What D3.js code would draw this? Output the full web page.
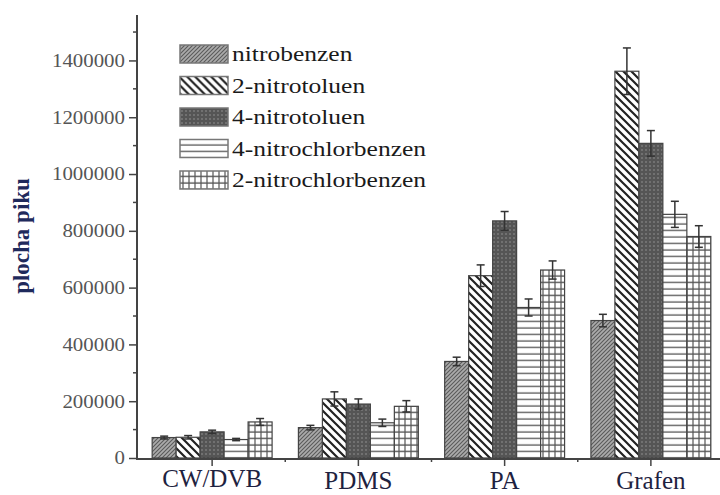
<!DOCTYPE html>
<html>
<head>
<meta charset="utf-8">
<script src="https://cdn.jsdelivr.net/npm/d3@7"></script>
<style>
  html, body { margin: 0; padding: 0; background: #fff; }
  svg { display: block; }
</style>
</head>
<body>
<script>
var categories = ['CW/DVB', 'PDMS', 'PA', 'Grafen'];
var series = ['nitrobenzen', '2-nitrotoluen', '4-nitrotoluen', '4-nitrochlorbenzen', '2-nitrochlorbenzen'];

var nitrobenzen = [72000, 107000, 340000, 484000];
var nitrotoluen2 = [73000, 208000, 642000, 1362000];
var nitrotoluen4 = [92000, 190000, 835000, 1108000];
var nitrochlorbenzen4 = [65000, 124000, 530000, 858000];
var nitrochlorbenzen2 = [127000, 182000, 662000, 780000];

var errNitrobenzen = [5000, 8000, 15000, 22000];
var errNitrotoluen2 = [6000, 25000, 38000, 82000];
var errNitrotoluen4 = [6000, 18000, 33000, 45000];
var errNitrochlorbenzen4 = [4000, 13000, 30000, 46000];
var errNitrochlorbenzen2 = [12000, 20000, 32000, 38000];

var yTicks = [0, 200000, 400000, 600000, 800000, 1000000, 1200000, 1400000];
var yTitle = 'plocha piku';

var Chart = {

  width: 720,
  height: 495,
  svg: null,
  x: null,
  xs: null,
  y: null,
  stretch: 1.16,

  init: function () {

    this.svg = d3.select('body').append('svg')
      .attr('width', this.width)
      .attr('height', this.height);

    this.x = d3.scaleBand().domain(categories).range([139, 724])
      .paddingInner(0.18).paddingOuter(0.09);
    this.xs = d3.scaleBand().domain(series).range([0, this.x.bandwidth()]);
    this.y = d3.scaleLinear().domain([0, 1560000]).range([458, 15]);

    this.makePatterns();
    this.drawAxes();
    this.drawBars();
    this.drawLegend();
  },

  makePatterns: function () {

    var defs = this.svg.append('defs');

    // nitrobenzen: gray with fine "/" hatching
    var p = defs.append('pattern').attr('id', 'pat0')
      .attr('patternUnits', 'userSpaceOnUse').attr('width', 4).attr('height', 4);
    p.append('rect').attr('width', 4).attr('height', 4).attr('fill', '#ababab');
    p.append('path').attr('d', 'M-1,5 L5,-1 M-1,1 L1,-1 M3,5 L5,3')
      .attr('stroke', '#5a5a5a').attr('stroke-width', 1.1);

    // 2-nitrotoluen: white with bold "\" stripes
    p = defs.append('pattern').attr('id', 'pat1')
      .attr('patternUnits', 'userSpaceOnUse').attr('width', 8).attr('height', 8);
    p.append('rect').attr('width', 8).attr('height', 8).attr('fill', '#fff');
    p.append('path').attr('d', 'M-1,-1 L9,9 M-5,3 L1,9 M3,-5 L9,1')
      .attr('stroke', '#222').attr('stroke-width', 2.2);

    // 4-nitrotoluen: dark gray with light dots
    p = defs.append('pattern').attr('id', 'pat2')
      .attr('patternUnits', 'userSpaceOnUse').attr('width', 4).attr('height', 4);
    p.append('rect').attr('width', 4).attr('height', 4).attr('fill', '#555');
    p.append('circle').attr('cx', 2).attr('cy', 2).attr('r', 0.8).attr('fill', '#959595');

    // 4-nitrochlorbenzen: horizontal lines
    p = defs.append('pattern').attr('id', 'pat3')
      .attr('patternUnits', 'userSpaceOnUse').attr('width', 6).attr('height', 6.5);
    p.append('rect').attr('width', 6).attr('height', 6.5).attr('fill', '#fff');
    p.append('path').attr('d', 'M0,3 L6,3')
      .attr('stroke', '#555').attr('stroke-width', 1.3);

    // 2-nitrochlorbenzen: grid
    p = defs.append('pattern').attr('id', 'pat4')
      .attr('patternUnits', 'userSpaceOnUse').attr('width', 6).attr('height', 6.5);
    p.append('rect').attr('width', 6).attr('height', 6.5).attr('fill', '#fff');
    p.append('path').attr('d', 'M0,3 L6,3 M3,0 L3,6.5')
      .attr('stroke', '#555').attr('stroke-width', 1.2);
  },

  drawAxes: function () {

    var self = this;
    var axisColor = '#444';

    // y axis
    var yAxis = d3.axisLeft(this.y).tickValues(yTicks).tickSize(8).tickSizeOuter(0)
      .tickFormat(d3.format('d'));
    var gy = this.svg.append('g').attr('transform', 'translate(137,0)').call(yAxis);
    gy.select('.domain').remove();
    gy.selectAll('line').attr('stroke', axisColor).attr('stroke-width', 1.5);
    gy.selectAll('text').remove();

    gy.selectAll('.ylab').data(yTicks).enter().append('text')
      .attr('transform', function (d) { return 'translate(-12,' + self.y(d) + ') scale(' + self.stretch + ',1)'; })
      .attr('dy', '0.35em')
      .attr('text-anchor', 'end')
      .style('font-family', '"Liberation Serif", "Times New Roman", serif')
      .style('font-size', '18px')
      .style('fill', '#555')
      .text(function (d) { return d; });

    var minor = d3.range(100000, 1560000, 200000);
    gy.selectAll('.minor').data(minor).enter().append('line')
      .attr('x1', -4).attr('x2', 0)
      .attr('y1', function (d) { return self.y(d); })
      .attr('y2', function (d) { return self.y(d); })
      .attr('stroke', axisColor).attr('stroke-width', 1.5);

    this.svg.append('line')
      .attr('x1', 137).attr('x2', 137).attr('y1', 15).attr('y2', 459)
      .attr('stroke', axisColor).attr('stroke-width', 2);

    // x axis
    this.svg.append('line')
      .attr('x1', 136).attr('x2', 720).attr('y1', 459).attr('y2', 459)
      .attr('stroke', axisColor).attr('stroke-width', 2);

    var step = this.x.step();
    var gx = this.svg.append('g');
    gx.selectAll('.xt').data(categories).enter().append('line')
      .attr('x1', function (d) { return self.x(d) + self.x.bandwidth() / 2; })
      .attr('x2', function (d) { return self.x(d) + self.x.bandwidth() / 2; })
      .attr('y1', 459).attr('y2', 466)
      .attr('stroke', axisColor).attr('stroke-width', 1.5);
    gx.selectAll('.xm').data(categories).enter().append('line')
      .attr('x1', function (d) { return self.x(d) + self.x.bandwidth() / 2 + step / 2; })
      .attr('x2', function (d) { return self.x(d) + self.x.bandwidth() / 2 + step / 2; })
      .attr('y1', 459).attr('y2', 462)
      .attr('stroke', axisColor).attr('stroke-width', 1.5);

    gx.selectAll('.xl').data(categories).enter().append('text')
      .attr('x', function (d) { return self.x(d) + self.x.bandwidth() / 2; })
      .attr('y', function (d, i) { return i === 0 ? 487 : 489; })
      .attr('text-anchor', 'middle')
      .style('font-family', '"Liberation Serif", "Times New Roman", serif')
      .style('font-size', '25px')
      .style('fill', '#1e2240')
      .text(function (d) { return d; });

    // y title
    this.svg.append('text')
      .attr('transform', 'translate(29,236) rotate(-90)')
      .attr('text-anchor', 'middle')
      .style('font-family', '"Liberation Serif", "Times New Roman", serif')
      .style('font-size', '23px')
      .style('font-weight', 'bold')
      .style('fill', '#1f2a5c')
      .text(yTitle);
  },

  drawBars: function () {

    var self = this;
    var values = [nitrobenzen, nitrotoluen2, nitrotoluen4, nitrochlorbenzen4, nitrochlorbenzen2];
    var errors = [errNitrobenzen, errNitrotoluen2, errNitrotoluen4, errNitrochlorbenzen4, errNitrochlorbenzen2];

    var rows = [];
    categories.forEach(function (c, ci) {
      series.forEach(function (s, si) {
        rows.push({ cat: c, ser: s, si: si, v: values[si][ci], e: errors[si][ci] });
      });
    });

    var g = this.svg.append('g');

    g.selectAll('rect').data(rows).enter().append('rect')
      .attr('x', function (d) { return self.x(d.cat) + self.xs(d.ser); })
      .attr('y', function (d) { return self.y(d.v); })
      .attr('width', this.xs.bandwidth())
      .attr('height', function (d) { return self.y(0) - self.y(d.v); })
      .attr('fill', function (d) { return 'url(#pat' + d.si + ')'; })
      .attr('stroke', '#444')
      .attr('stroke-width', 1.2);

    // error bars
    var bw = this.xs.bandwidth();
    var eb = g.selectAll('.err').data(rows).enter().append('g')
      .attr('transform', function (d) { return 'translate(' + (self.x(d.cat) + self.xs(d.ser) + bw / 2) + ',0)'; });
    eb.append('line')
      .attr('y1', function (d) { return self.y(d.v - d.e); })
      .attr('y2', function (d) { return self.y(d.v + d.e); });
    eb.append('line').attr('x1', -4).attr('x2', 4)
      .attr('y1', function (d) { return self.y(d.v + d.e); })
      .attr('y2', function (d) { return self.y(d.v + d.e); });
    eb.append('line').attr('x1', -4).attr('x2', 4)
      .attr('y1', function (d) { return self.y(d.v - d.e); })
      .attr('y2', function (d) { return self.y(d.v - d.e); });
    eb.selectAll('line').attr('stroke', '#333').attr('stroke-width', 1.5);
  },

  drawLegend: function () {

    var self = this;
    var leg = this.svg.append('g').attr('transform', 'translate(180,54)');
    var item = leg.selectAll('g').data(series).enter().append('g')
      .attr('transform', function (d, i) { return 'translate(0,' + (i * 31.5) + ')'; });

    item.append('rect')
      .attr('x', 0).attr('y', -9).attr('width', 48).attr('height', 18)
      .attr('fill', function (d, i) { return 'url(#pat' + i + ')'; })
      .attr('stroke', '#777').attr('stroke-width', 1.5);

    item.append('text')
      .attr('transform', 'translate(52,0) scale(' + self.stretch + ',1)')
      .attr('dy', '0.33em')
      .style('font-family', '"Liberation Serif", "Times New Roman", serif')
      .style('font-size', '22px')
      .style('fill', '#1a1a1a')
      .text(function (d) { return d; });
  }
};

Chart.init();
</script>
</body>
</html>
